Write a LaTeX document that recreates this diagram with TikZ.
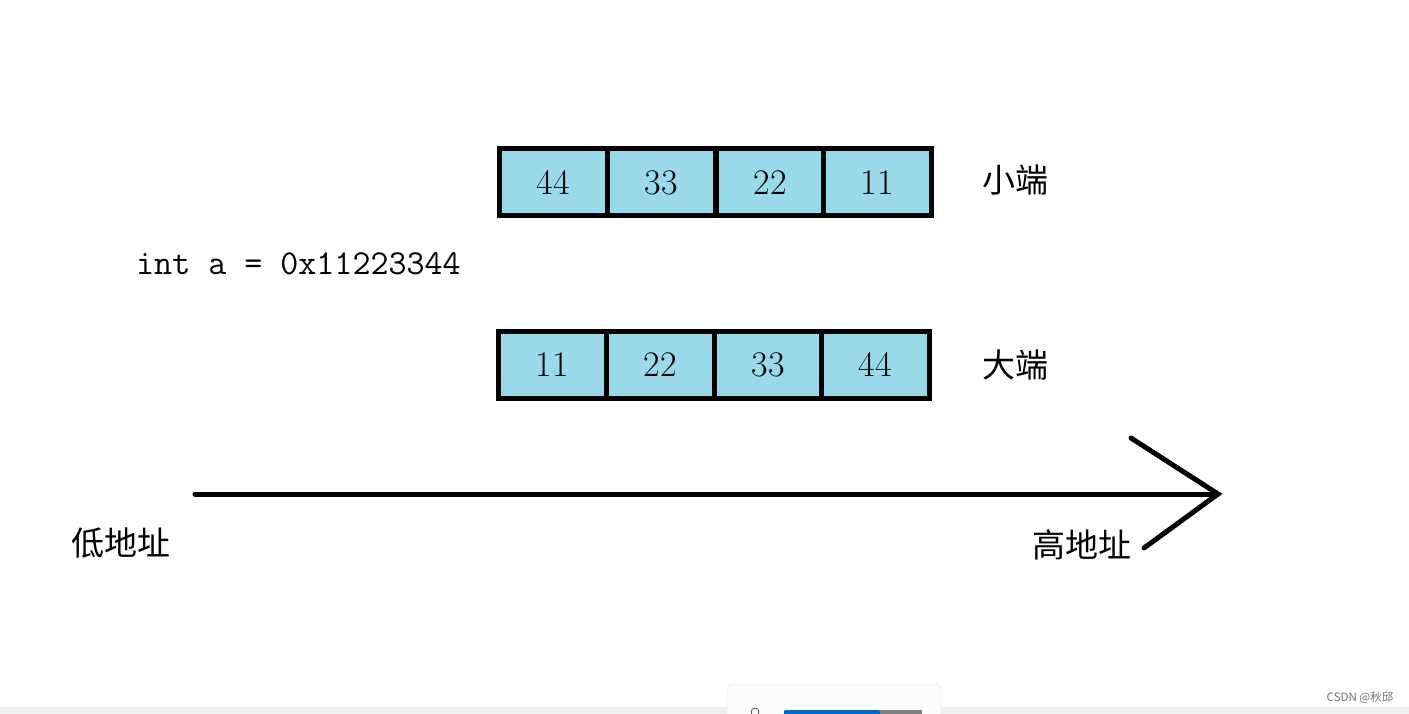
\documentclass[tikz,border=0pt]{standalone}
\usepackage{fontspec}
\newfontfamily\cjk{Noto Sans CJK SC}
\definecolor{cellblue}{HTML}{99D9EA}
\definecolor{bargray}{HTML}{F0F0F0}
\definecolor{sliderblue}{HTML}{0067C0}
\begin{document}
\begin{tikzpicture}[x=1pt, y=-1pt,
    cell/.style={draw, fill=cellblue, line width=5pt, minimum width=108pt, minimum height=67pt, inner sep=0pt, font=\fontsize{36}{38}\selectfont},
    label/.style={font=\cjk\fontsize{33}{36}\selectfont, inner sep=0pt},
    axis/.style={line width=5pt, line cap=round, line join=miter}]
    \useasboundingbox[fill=white] (0,0) rectangle (1409,714);

    % Nodes
    \node[cell] at (553.5,182.5) (l1) {44};
    \node[cell] at (661.5,182.5) (l2) {33};
    \node[cell] at (770,182.5) (l3) {22};
    \node[cell] at (877.5,182.5) (l4) {11};
    \node[label] at (1015,180) (little) {小端};

    \node[anchor=west, inner sep=0pt, font=\ttfamily\fontsize{35}{37}\selectfont] at (136,264) (code) {int a = 0x11223344};

    \node[cell] at (552.5,364.5) (b1) {11};
    \node[cell] at (660.5,364.5) (b2) {22};
    \node[cell] at (768,364.5) (b3) {33};
    \node[cell] at (875.5,364.5) (b4) {44};
    \node[label] at (1015,365) (big) {大端};

    \node[label] at (121,543) (low) {低地址};
    \node[label] at (1082,545) (high) {高地址};

    \coordinate (start) at (195,494);
    \coordinate (tip) at (1218,494);
    \coordinate (barbup) at (1131,438);
    \coordinate (barbdown) at (1144,548);

    % Edges
    \draw[axis] (start) -- (tip);
    \draw[axis] (barbup) -- (tip) -- (barbdown);

    % screen bits
    \fill[bargray] (0,707) rectangle (1409,714);
    \draw[black!10, fill=white!99!black, rounded corners=6pt] (727,714) -- (727,684) -- (941,684) -- (941,714);
    \fill[sliderblue, rounded corners=1pt] (784,710) rectangle (880,716);
    \fill[black!50] (880,710) rectangle (922,716);
    \draw[black!70, line width=0.8pt] (755,712) circle (4);
    \node[font=\cjk\fontsize{11.5}{13}\selectfont, text=black!55, inner sep=0pt] at (1360,698) (mark) {CSDN @秋邱};
\end{tikzpicture}
\end{document}
